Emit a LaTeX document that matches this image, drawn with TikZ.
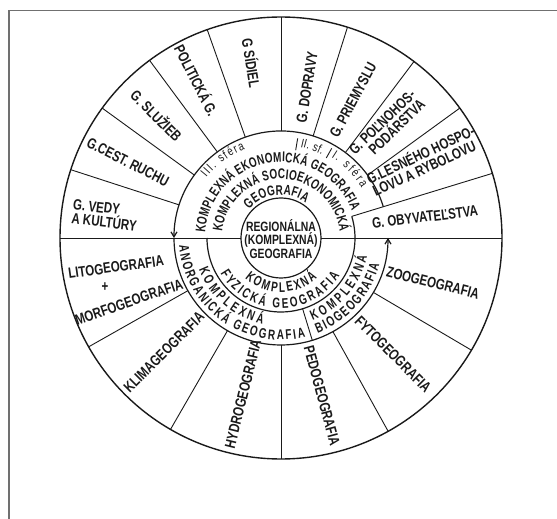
\documentclass[tikz,border=0pt]{standalone}
\usepackage{fontspec}
\newfontfamily\lab{Liberation Sans}[FakeStretch=0.77]
\newfontfamily\arcf{Liberation Sans}[FakeStretch=0.71]
\usetikzlibrary{decorations.text,arrows.meta}
\definecolor{ink}{HTML}{1A1A1A}
\definecolor{framegray}{HTML}{707070}
\tikzset{
  lbl/.style={font=\lab\bfseries\fontsize{15}{14}\selectfont, text=ink, inner sep=0pt, align=center},
  sec/.style={draw=ink, line width=0.9pt},
  ring/.style={draw=ink, line width=1.2pt},
  arctext/.style={decorate, decoration={text along path, text align={fit to path}, text color=ink, text={#1}}},
}
\newcommand{\arcfnt}{\arcf\bfseries\fontsize{14}{14}\selectfont}
\newcommand{\sferafnt}{\lab\fontsize{12.5}{12.5}\selectfont}
\begin{document}
\begin{tikzpicture}[x=1pt,y=1pt]
\useasboundingbox (-281,-281) rectangle (276,238);
\fill[white] (-281,-281) rectangle (276,238);
% frame
\draw[framegray, line width=1.6pt] (-271.7,-281) -- (-271.7,227.5) -- (276,227.5);
% outer circle and diameter
\draw[ink, line width=1.4pt] (0,0) circle[radius=221pt];
\draw[sec] (180:221pt) -- (180:40pt);
\draw[sec] (0:40pt) -- (0:221pt);
% sector lines
\foreach \a in {36,53,72.5,90,109.5,126.5,144,162} \draw[sec] (\a:107pt) -- (\a:221pt);
\draw[sec] (17:74pt) -- (17:221pt);
\foreach \a in {209.5,240,270,299,329.5} \draw[sec] (\a:107pt) -- (\a:221pt);
% rings
\draw[ring, -{Straight Barb[length=5pt,width=6pt]}] (17:107pt) arc[start angle=17, end angle=180, radius=107pt];
\draw[ring, -{Straight Barb[length=5pt,width=6pt]}] (180:107pt) arc[start angle=180, end angle=360, radius=107pt];
\draw[ring] (180:74pt) arc[start angle=180, end angle=377, radius=74pt];
\draw[sec] (287:74pt) -- (287:107pt);
\draw[sec] (80.5:89pt) -- (80.5:101pt);
\draw[sec] (60.5:92pt) -- (60.5:103pt);
% core
\draw[ring] (0,0) circle[radius=40pt];
\node[lbl, font=\lab\bfseries\fontsize{13.5}{13.5}\selectfont] (core) at (0,-1) {REGIONÁLNA\\(KOMPLEXNÁ)\\GEOGRAFIA};
% curved texts, upper
\path[arctext={|\arcfnt|GEOGRAFIA}] (138:43pt) arc[start angle=138, end angle=55, radius=43pt];
\path[arctext={|\arcfnt|KOMPLEXNÁ SOCIOEKONOMICKÁ}] (174:59pt) arc[start angle=174, end angle=6, radius=59pt];
\path[arctext={|\arcfnt|KOMPLEXNÁ EKONOMICKÁ GEOGRAFIA}] (176:76pt) arc[start angle=176, end angle=21, radius=76pt];
\path[arctext={|\sferafnt|III. sféra}] (141:96pt) arc[start angle=141, end angle=112, radius=96pt];
\path[arctext={|\sferafnt|II. sf.}] (78:93pt) arc[start angle=78, end angle=64, radius=93pt];
\path[arctext={|\sferafnt|I. sféra}] (58:95pt) arc[start angle=58, end angle=32, radius=95pt];
% curved texts, lower
\path[arctext={|\arcfnt|KOMPLEXNÁ}] (228:54pt) arc[start angle=228, end angle=312, radius=54pt];
\path[arctext={|\arcfnt|FYZICKÁ GEOGRAFIA}] (210:70pt) arc[start angle=210, end angle=327, radius=70pt];
\path[arctext={|\arcfnt|KOMPLEXNÁ}] (201:88pt) arc[start angle=201, end angle=258, radius=88pt];
\path[arctext={|\arcfnt|ANORGANICKÁ GEOGRAFIA}] (184:102pt) arc[start angle=184, end angle=284, radius=102pt];
\path[arctext={|\arcfnt|KOMPLEXNÁ}] (291:88pt) arc[start angle=291, end angle=348, radius=88pt];
\path[arctext={|\arcfnt|BIOGEOGRAFIA}] (291:102pt) arc[start angle=291, end angle=345, radius=102pt];
% outer labels
\node[lbl, rotate=7] (obyv) at (144,21) {G. OBYVATEĽSTVA};
\node[lbl, rotate=25, align=left] (les) at (142,78) {G.LESNÉHO HOSPO-\\LOVU A RYBOLOVU};
\node[lbl, rotate=44, align=right] (polno) at (106,111) {G. POĽNOHOS-\\PODÁRSTVA};
\node[lbl, rotate=62] (priem) at (72,138) {G. PRIEMYSLU};
\node[lbl, rotate=81] (dopr) at (26,151) {G. DOPRAVY};
\node[lbl, rotate=-81] (sid) at (-29,175) {G SÍDIEL};
\node[lbl, rotate=-63] (polit) at (-84,158) {POLITICKÁ G.};
\node[lbl, rotate=-45] (sluz) at (-124,123) {G. SLUŽIEB};
\node[lbl, rotate=-27] (cest) at (-153,76) {G.CEST. RUCHU};
\node[lbl, rotate=-7, align=left] (veda) at (-176,23) {G. VEDY\\A KULTÚRY};
\node[lbl, rotate=8] (lito) at (-165,-29) {LITOGEOGRAFIA};
\node[lbl] (plus) at (-176,-49) {+};
\node[lbl, rotate=19] (morfo) at (-152,-64) {MORFOGEOGRAFIA};
\node[lbl, rotate=45] (klima) at (-117,-114) {KLIMAGEOGRAFIA};
\node[lbl, rotate=76] (hydro) at (-38,-156) {HYDROGEOGRAFIA};
\node[lbl, rotate=-75] (pedo) at (41,-158) {PEDOGEOGRAFIA};
\node[lbl, rotate=-45] (fyto) at (112,-116) {FYTOGEOGRAFIA};
\node[lbl, rotate=-14] (zoo) at (152,-45) {ZOOGEOGRAFIA};
\end{tikzpicture}
\end{document}
